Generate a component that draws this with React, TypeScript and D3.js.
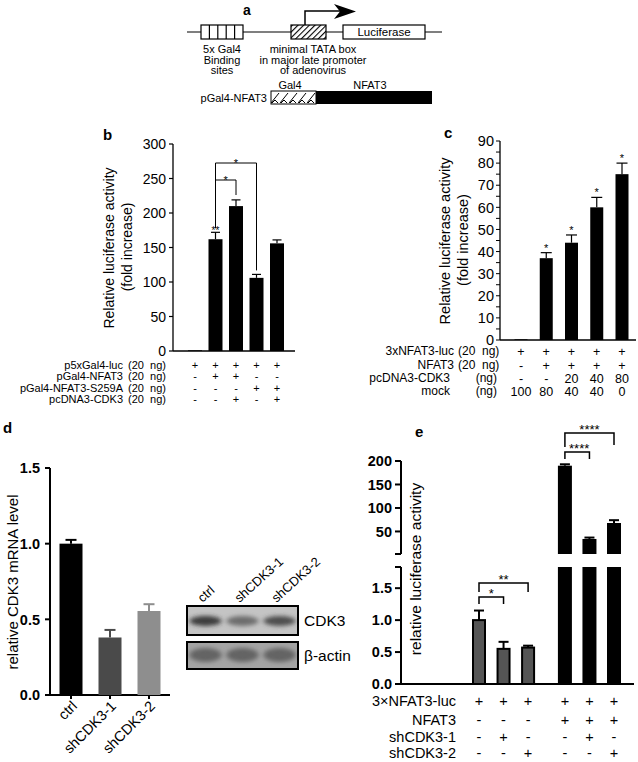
import React from "react";
import * as d3 from "d3";

const FONT = "'Liberation Sans', Arial, Helvetica, sans-serif";

// ---------- Panel a (construct diagram text) ----------
const aBindingLabel = ["5x Gal4", "Binding", "sites"];
const aTataLabel = ["minimal TATA box", "in major late promoter", "of adenovirus"];
const aBindingSites = 5;

// ---------- Panel b ----------
const bRowLabels = ["p5xGal4-luc", "pGal4-NFAT3", "pGal4-NFAT3-S259A", "pcDNA3-CDK3"];
const bRowUnits = ["(20  ng)", "(20  ng)", "(20  ng)", "(20  ng)"];
const bRows = [
  ["+", "+", "+", "+", "+"],
  ["-", "+", "+", "-", "-"],
  ["-", "-", "-", "+", "+"],
  ["-", "-", "+", "-", "+"],
];
const bValues = [1, 162, 210, 106, 156];
const bErrors = [0.5, 10, 9, 5, 5];
const bTicks = [0, 50, 100, 150, 200, 250, 300];

// ---------- Panel c ----------
const cRowLabels = ["3xNFAT3-luc", "NFAT3", "pcDNA3-CDK3", "mock"];
const cRowUnits = ["(20  ng)", "(20  ng)", "(ng)", "(ng)"];
const cRows = [
  ["+", "+", "+", "+", "+"],
  ["-", "+", "+", "+", "+"],
  ["-", "-", "20", "40", "80"],
  ["100", "80", "40", "40", "0"],
];
const cValues = [0.3, 37, 44, 60, 75];
const cErrors = [0, 2.5, 3.5, 4.5, 5];
const cTicks = [0, 10, 20, 30, 40, 50, 60, 70, 80, 90];

// ---------- Panel d ----------
const dCats = ["ctrl", "shCDK3-1", "shCDK3-2"];
const dValues = [1.0, 0.38, 0.555];
const dErrors = [0.025, 0.05, 0.045];
const dTicks = [0, 0.5, 1.0, 1.5];
const blotLanes = ["ctrl", "shCDK3-1", "shCDK3-2"];
const blotCDK3 = [0.85, 0.55, 0.75];
const blotActin = [0.6, 0.6, 0.6];
const blotProteins = ["CDK3", "β-actin"];

// ---------- Panel e ----------
const eRowLabels = ["3×NFAT3-luc", "NFAT3", "shCDK3-1", "shCDK3-2"];
const eRows = [
  ["+", "+", "+", "+", "+", "+"],
  ["-", "-", "-", "+", "+", "+"],
  ["-", "+", "-", "-", "+", "-"],
  ["-", "-", "+", "-", "-", "+"],
];
const eGroups = [0, 0, 0, 1, 1, 1];
const eValues = [1.0, 0.55, 0.57, 190, 34, 68];
const eErrors = [0.15, 0.11, 0.03, 3, 3, 6];
const eLowerTicks = [0, 0.5, 1.0, 1.5];
const eUpperTicks = [50, 100, 150, 200];

const dColors = ["#000000", "#4a4a4a", "#8e8e8e"];

function ErrBar({ x, y0, y1, w, color = "#000", sw = 1.2 }: any) {
  return (
    <g stroke={color} strokeWidth={sw}>
      <line x1={x} x2={x} y1={y0} y2={y1} />
      <line x1={x - w / 2} x2={x + w / 2} y1={y1} y2={y1} />
    </g>
  );
}

function PanelA() {
  const gx0 = 201, gx1 = 243, by0 = 25, by1 = 39;
  const cells = d3.range(1, aBindingSites).map((i) => gx0 + ((gx1 - gx0) * i) / aBindingSites);
  return (
    <g fontSize={11}>
      <defs>
        <pattern id="hatch" width="4" height="4" patternUnits="userSpaceOnUse" patternTransform="rotate(45)">
          <rect width="4" height="4" fill="#fff" />
          <line x1="0" y1="0" x2="0" y2="4" stroke="#000" strokeWidth="2.2" />
        </pattern>
        <pattern id="galpat" width="9" height="13" patternUnits="userSpaceOnUse" x="271" y="91">
          <rect width="9" height="13" fill="#fff" />
          <path d="M0,12 L8,2 M1,12 L4,9 L7,12" stroke="#000" strokeWidth="1" fill="none" />
        </pattern>
      </defs>
      <text x={243} y={15} fontWeight="bold" fontSize={14}>a</text>
      <line x1={187} x2={442} y1={32} y2={32} stroke="#000" strokeWidth={1.2} />
      <rect x={gx0} y={by0} width={gx1 - gx0} height={by1 - by0} fill="#fff" stroke="#000" strokeWidth={1.2} />
      {cells.map((cx, i) => (
        <line key={i} x1={cx} x2={cx} y1={by0} y2={by1} stroke="#000" strokeWidth={1.2} />
      ))}
      <rect x={291} y={by0} width={35} height={by1 - by0} fill="url(#hatch)" stroke="#000" strokeWidth={1.2} />
      <path d="M305,25 V11 H342" stroke="#000" strokeWidth={1.5} fill="none" />
      <path d="M334,4 L356,11.5 L334,19 L340,11.5 Z" fill="#000" />
      <rect x={343} y={by0} width={82} height={by1 - by0} fill="#fff" stroke="#000" strokeWidth={1.2} />
      <text x={384} y={36} textAnchor="middle" fontSize={11.5}>Luciferase</text>
      {aBindingLabel.map((t, i) => (
        <text key={i} x={222} y={53 + i * 10.5} textAnchor="middle">{t}</text>
      ))}
      {aTataLabel.map((t, i) => (
        <text key={i} x={313} y={53 + i * 10.5} textAnchor="middle">{t}</text>
      ))}
      <text x={290} y={88.5} textAnchor="middle">Gal4</text>
      <text x={370} y={88.5} textAnchor="middle">NFAT3</text>
      <text x={267} y={102} textAnchor="end">pGal4-NFAT3</text>
      <rect x={271} y={91} width={45} height={13} fill="url(#galpat)" stroke="#000" strokeWidth={1} />
      <rect x={316} y={91} width={116} height={13} fill="#000" />
    </g>
  );
}

function PanelB() {
  const x = d3.scalePoint<number>().domain(d3.range(bValues.length)).range([195, 277]);
  const y = d3.scaleLinear().domain([0, 300]).range([351, 144]);
  const bw = 14;
  const rowY = [365, 376.5, 388, 399.5];
  return (
    <g>
      <text x={103} y={140} fontWeight="bold" fontSize={15}>b</text>
      <line x1={173} x2={173} y1={y(300)} y2={y(0)} stroke="#000" strokeWidth={1.3} />
      <line x1={173} x2={295} y1={y(0)} y2={y(0)} stroke="#000" strokeWidth={1.3} />
      {bTicks.map((t) => (
        <g key={t}>
          <line x1={169} x2={173} y1={y(t)} y2={y(t)} stroke="#000" strokeWidth={1.2} />
          <text x={166} y={y(t)} dy="0.36em" textAnchor="end" fontSize={14}>{t}</text>
        </g>
      ))}
      {bValues.map((v, i) => (
        <g key={i}>
          <rect x={x(i)! - bw / 2} y={y(v)} width={bw} height={y(0) - y(v)} fill="#000" />
          {bErrors[i] > 1 && <ErrBar x={x(i)!} y0={y(v)} y1={y(v + bErrors[i])} w={9} />}
        </g>
      ))}
      <text transform="translate(114,248) rotate(-90)" textAnchor="middle" fontSize={14}>Relative luciferase activity</text>
      <text transform="translate(132,247) rotate(-90)" textAnchor="middle" fontSize={14}>(fold increase)</text>
      <g stroke="#000" strokeWidth={1} fill="none">
        <path d={`M${x(1)},${y(bValues[1] + bErrors[1]) - 4} V163 H${x(3)} V${y(bValues[3] + bErrors[3]) - 4}`} />
        <path d={`M${x(1)},180 H${x(2)} V195`} />
      </g>
      <text x={(x(1)! + x(3)!) / 2} y={167} textAnchor="middle" fontSize={11}>*</text>
      <text x={(x(1)! + x(2)!) / 2} y={184} textAnchor="middle" fontSize={11}>*</text>
      <text x={x(1)} y={234} textAnchor="middle" fontSize={10}>**</text>
      {bRowLabels.map((l, r) => (
        <g key={r} fontSize={11}>
          <text x={123} y={rowY[r]} dy="0.36em" textAnchor="end">{l}</text>
          <text x={128} y={rowY[r]} dy="0.36em" style={{ whiteSpace: "pre" }}>{bRowUnits[r]}</text>
          {bRows[r].map((s, i) => (
            <text key={i} x={x(i)} y={rowY[r]} dy="0.36em" textAnchor="middle" fontSize={11}>{s}</text>
          ))}
        </g>
      ))}
    </g>
  );
}

function PanelC() {
  const x = d3.scalePoint<number>().domain(d3.range(cValues.length)).range([521, 622]);
  const y = d3.scaleLinear().domain([0, 90]).range([340, 141]);
  const bw = 13;
  const rowY = [351, 365, 378, 391];
  const minor = d3.range(0, 91, 5);
  return (
    <g>
      <text x={444} y={138} fontWeight="bold" fontSize={15}>c</text>
      <line x1={500} x2={500} y1={y(90)} y2={y(0)} stroke="#000" strokeWidth={1.3} />
      <line x1={500} x2={636} y1={y(0)} y2={y(0)} stroke="#000" strokeWidth={1.3} />
      {minor.map((t) => (
        <line key={t} x1={496} x2={500} y1={y(t)} y2={y(t)} stroke="#000" strokeWidth={1} />
      ))}
      {cTicks.map((t) => (
        <text key={t} x={494} y={y(t)} dy="0.36em" textAnchor="end" fontSize={14.5}>{t}</text>
      ))}
      {cValues.map((v, i) => (
        <g key={i}>
          <rect x={x(i)! - bw / 2} y={y(v)} width={bw} height={y(0) - y(v)} fill="#000" />
          {cErrors[i] > 0 && <ErrBar x={x(i)!} y0={y(v)} y1={y(v + cErrors[i])} w={11} />}
          {i > 0 && (
            <text x={x(i)} y={y(v + cErrors[i]) - 1} textAnchor="middle" fontSize={11}>*</text>
          )}
        </g>
      ))}
      <text transform="translate(450,241) rotate(-90)" textAnchor="middle" fontSize={14.5}>Relative luciferase activity</text>
      <text transform="translate(468,240) rotate(-90)" textAnchor="middle" fontSize={14.5}>(fold increase)</text>
      {cRowLabels.map((l, r) => (
        <g key={r} fontSize={12}>
          <text x={r < 2 ? 454 : 450} y={rowY[r]} dy="0.36em" textAnchor="end">{l}</text>
          {r < 2 ? (
            <text x={458} y={rowY[r]} dy="0.36em" style={{ whiteSpace: "pre" }}>{cRowUnits[r]}</text>
          ) : (
            <text x={497} y={rowY[r]} dy="0.36em" textAnchor="end">{cRowUnits[r]}</text>
          )}
          {cRows[r].map((s, i) => (
            <text key={i} x={x(i)} y={rowY[r]} dy="0.36em" textAnchor="middle" fontSize={12.5}>{s}</text>
          ))}
        </g>
      ))}
    </g>
  );
}

function PanelD() {
  const x = d3.scalePoint<string>().domain(dCats).range([71, 149]);
  const y = d3.scaleLinear().domain([0, 1.5]).range([695, 468]);
  const bw = 23;
  return (
    <g>
      <text x={3} y={433} fontWeight="bold" fontSize={15}>d</text>
      <line x1={50} x2={50} y1={y(1.5)} y2={y(0)} stroke="#000" strokeWidth={2} />
      <line x1={49} x2={170} y1={y(0)} y2={y(0)} stroke="#000" strokeWidth={2} />
      {dTicks.map((t) => (
        <g key={t}>
          <line x1={45} x2={50} y1={y(t)} y2={y(t)} stroke="#000" strokeWidth={2} />
          <text x={40} y={y(t)} dy="0.36em" textAnchor="end" fontSize={14.5} fontWeight="bold">{d3.format(".1f")(t)}</text>
        </g>
      ))}
      {dValues.map((v, i) => (
        <g key={i}>
          <rect x={x(dCats[i])! - bw / 2} y={y(v)} width={bw} height={y(0) - y(v)} fill={dColors[i]} />
          <ErrBar x={x(dCats[i])!} y0={y(v)} y1={y(v + dErrors[i])} w={11} color={dColors[i]} sw={2} />
          <line x1={x(dCats[i])} x2={x(dCats[i])} y1={y(0)} y2={y(0) + 4} stroke="#000" strokeWidth={2} />
          <text transform={`translate(${x(dCats[i])! + 7},${y(0) + 12}) rotate(-45)`} textAnchor="end" fontSize={14.5}>{dCats[i]}</text>
        </g>
      ))}
      <text transform="translate(18,582) rotate(-90)" textAnchor="middle" fontSize={15}>relative CDK3 mRNA level</text>
    </g>
  );
}

function Blot() {
  const x0 = 187, x1 = 298;
  const lane = d3.scalePoint<string>().domain(blotLanes).range([x0, x1]).padding(0.5);
  const boxes = [
    { y0: 606, y1: 635, vals: blotCDK3, bg: "#c4c4c4", by: 621, bh: 5 },
    { y0: 642, y1: 669, vals: blotActin, bg: "#a4a4a4", by: 655, bh: 7 },
  ];
  return (
    <g>
      <defs>
        <filter id="blurBand" x="-30%" y="-100%" width="160%" height="300%">
          <feGaussianBlur stdDeviation="2.5 2" />
        </filter>
        {boxes.map((b, k) => (
          <clipPath id={`blotclip${k}`} key={k}>
            <rect x={x0} y={b.y0} width={x1 - x0} height={b.y1 - b.y0} />
          </clipPath>
        ))}
      </defs>
      {blotLanes.map((l) => (
        <text key={l} transform={`translate(${lane(l)! - 3},603) rotate(-42)`} fontSize={13}>{l}</text>
      ))}
      {boxes.map((b, k) => (
        <g key={k}>
          <rect x={x0} y={b.y0} width={x1 - x0} height={b.y1 - b.y0} fill={b.bg} />
          <g clipPath={`url(#blotclip${k})`} filter="url(#blurBand)">
            {b.vals.map((v, i) => (
              <ellipse key={i} cx={lane(blotLanes[i])} cy={b.by} rx={16} ry={b.bh} fill={d3.interpolateGreys(0.35 + v * 0.6)} opacity={0.9} />
            ))}
          </g>
          <rect x={x0} y={b.y0} width={x1 - x0} height={b.y1 - b.y0} fill="none" stroke="#000" strokeWidth={2} />
          <text x={304} y={(b.y0 + b.y1) / 2} dy="0.36em" fontSize={15.5}>{blotProteins[k]}</text>
        </g>
      ))}
    </g>
  );
}

function PanelE() {
  const xi = d3.scaleLinear().domain([0, 5.5]).range([479, 614]);
  const pos = eValues.map((_, i) => xi(i - eGroups[i] * 3 + eGroups[i] * 3.5));
  const yL = d3.scaleLinear().domain([0, 1.8]).range([684, 569]);
  const yU = d3.scaleLinear().domain([2, 200]).range([554, 461]);
  const lowTop = 567;
  const bw = 14;
  const rowY = [701, 720, 737, 753];
  return (
    <g>
      <text x={415} y={437} fontWeight="bold" fontSize={15}>e</text>
      <line x1={401} x2={401} y1={yU(200)} y2={554} stroke="#000" strokeWidth={2} />
      <line x1={395} x2={401} y1={554} y2={554} stroke="#000" strokeWidth={2} />
      <line x1={401} x2={401} y1={lowTop} y2={684} stroke="#000" strokeWidth={2} />
      <line x1={395} x2={401} y1={lowTop} y2={lowTop} stroke="#000" strokeWidth={2} />
      <line x1={400} x2={634} y1={684} y2={684} stroke="#000" strokeWidth={2} />
      {eUpperTicks.map((t) => (
        <g key={t}>
          <line x1={395} x2={401} y1={yU(t)} y2={yU(t)} stroke="#000" strokeWidth={2} />
          <text x={392} y={yU(t)} dy="0.36em" textAnchor="end" fontSize={14.5} fontWeight="bold">{t}</text>
        </g>
      ))}
      {eLowerTicks.map((t) => (
        <g key={t}>
          <line x1={395} x2={401} y1={yL(t)} y2={yL(t)} stroke="#000" strokeWidth={2} />
          <text x={392} y={yL(t)} dy="0.36em" textAnchor="end" fontSize={14.5} fontWeight="bold">{d3.format(".1f")(t)}</text>
        </g>
      ))}
      {eValues.map((v, i) => {
        const cx = pos[i];
        if (eGroups[i] === 0) {
          return (
            <g key={i}>
              <ErrBar x={cx} y0={yL(v)} y1={yL(v + eErrors[i])} w={10} sw={2} />
              <rect x={cx - bw / 2 + 1} y={yL(v)} width={bw - 2} height={684 - yL(v)} fill="#555" stroke="#000" strokeWidth={2} />
            </g>
          );
        }
        return (
          <g key={i}>
            <rect x={cx - bw / 2} y={lowTop} width={bw} height={684 - lowTop} fill="#000" />
            <ErrBar x={cx} y0={yU(v)} y1={yU(v + eErrors[i])} w={10} sw={2} />
            <rect x={cx - bw / 2} y={yU(v)} width={bw} height={554 - yU(v)} fill="#000" />
          </g>
        );
      })}
      <g stroke="#000" strokeWidth={1.5} fill="none">
        <path d={`M${pos[0]},604 V597 H${pos[1]} V604`} />
        <path d={`M${pos[0]},592 V583 H${pos[2]} V592`} />
        <path d={`M${pos[3]},459 V452 H${pos[4]} V459`} />
        <path d={`M${pos[3]},447 V433 H${pos[5]} V445`} />
      </g>
      <text x={(pos[0] + pos[1]) / 2} y={598} textAnchor="middle" fontSize={13}>*</text>
      <text x={(pos[0] + pos[2]) / 2} y={584} textAnchor="middle" fontSize={13}>**</text>
      <text x={(pos[3] + pos[4]) / 2 + 2} y={453} textAnchor="middle" fontSize={13}>****</text>
      <text x={(pos[3] + pos[5]) / 2} y={434} textAnchor="middle" fontSize={13}>****</text>
      <text transform="translate(421,569) rotate(-90)" textAnchor="middle" fontSize={15.5}>relative luciferase activity</text>
      {eRowLabels.map((l, r) => (
        <g key={r} fontSize={14.5}>
          <text x={456} y={rowY[r]} dy="0.36em" textAnchor="end">{l}</text>
          {eRows[r].map((s, i) => (
            <text key={i} x={pos[i]} y={rowY[r]} dy="0.36em" textAnchor="middle">{s}</text>
          ))}
        </g>
      ))}
    </g>
  );
}

export default function App() {
  return (
    <svg
      width={638}
      height={762}
      style={{ position: "absolute", left: 0, top: 0, background: "#fff" }}
      fontFamily={FONT}
    >
      <rect width={638} height={762} fill="#fff" />
      <PanelA />
      <PanelB />
      <PanelC />
      <PanelD />
      <Blot />
      <PanelE />
    </svg>
  );
}
